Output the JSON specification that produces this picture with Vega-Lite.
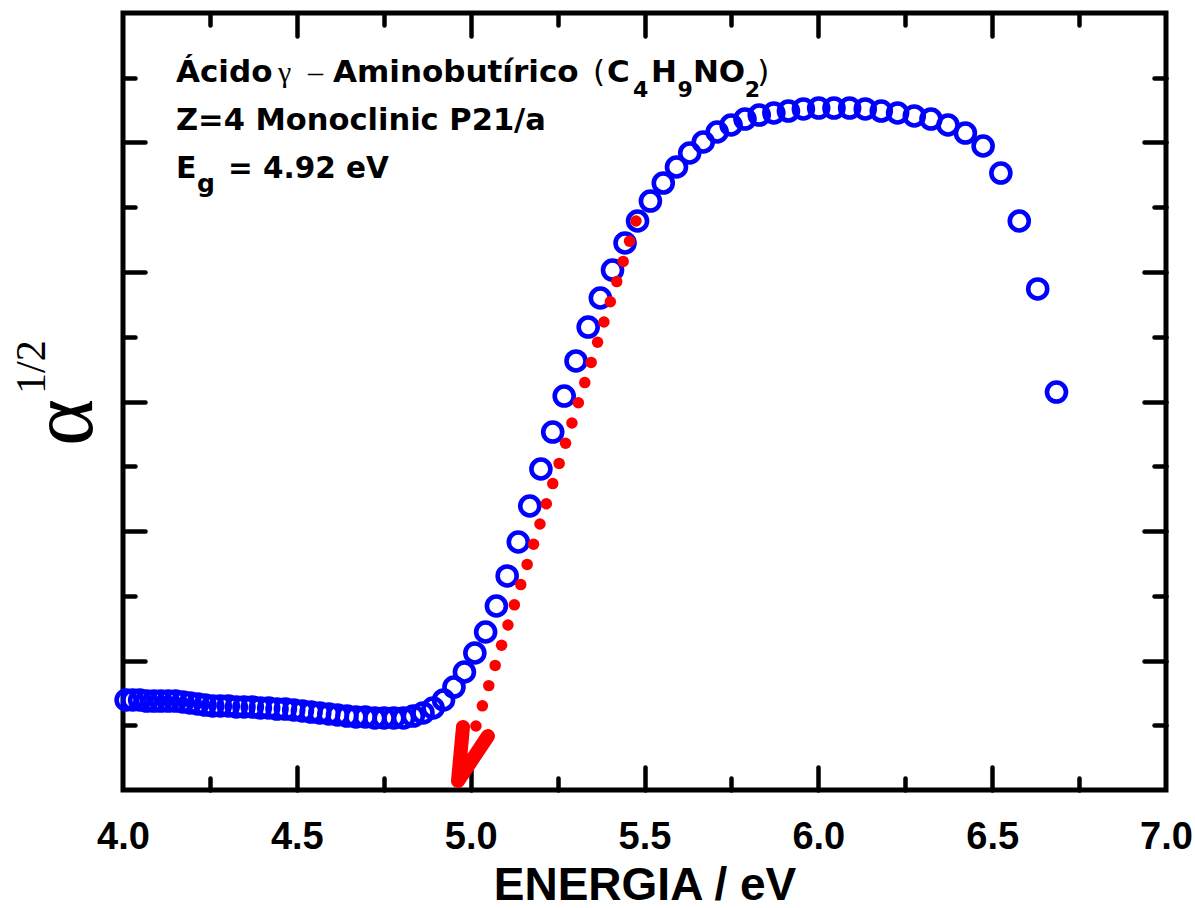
{
  "$schema": "https://vega.github.io/schema/vega-lite/v6.json",
  "width": 1043,
  "height": 777,
  "autosize": {"type": "none"},
  "padding": {"left": 123, "top": 13, "right": 29, "bottom": 118},
  "background": "white",
  "config": {
    "view": {"stroke": "black", "strokeWidth": 5},
    "axis": {"grid": false, "domain": false, "tickColor": "black", "tickWidth": 4.5, "tickCap": "round"}
  },
  "datasets": {
    "absorption": [
      {"E": 4.009, "a": 0.695}, {"E": 4.028, "a": 0.695}, {"E": 4.048, "a": 0.695}, {"E": 4.068, "a": 0.687},
      {"E": 4.089, "a": 0.687}, {"E": 4.109, "a": 0.687}, {"E": 4.130, "a": 0.687}, {"E": 4.151, "a": 0.687},
      {"E": 4.172, "a": 0.680}, {"E": 4.193, "a": 0.672}, {"E": 4.215, "a": 0.664}, {"E": 4.236, "a": 0.656},
      {"E": 4.258, "a": 0.649}, {"E": 4.280, "a": 0.649}, {"E": 4.303, "a": 0.649}, {"E": 4.326, "a": 0.641},
      {"E": 4.348, "a": 0.641}, {"E": 4.372, "a": 0.641}, {"E": 4.395, "a": 0.633}, {"E": 4.419, "a": 0.633},
      {"E": 4.443, "a": 0.625}, {"E": 4.467, "a": 0.625}, {"E": 4.491, "a": 0.618}, {"E": 4.516, "a": 0.610},
      {"E": 4.541, "a": 0.602}, {"E": 4.566, "a": 0.595}, {"E": 4.592, "a": 0.587}, {"E": 4.617, "a": 0.579},
      {"E": 4.644, "a": 0.571}, {"E": 4.670, "a": 0.564}, {"E": 4.697, "a": 0.564}, {"E": 4.724, "a": 0.556},
      {"E": 4.751, "a": 0.556}, {"E": 4.779, "a": 0.556}, {"E": 4.807, "a": 0.556}, {"E": 4.835, "a": 0.571},
      {"E": 4.863, "a": 0.595}, {"E": 4.892, "a": 0.633}, {"E": 4.922, "a": 0.695}, {"E": 4.952, "a": 0.795},
      {"E": 4.982, "a": 0.911}, {"E": 5.012, "a": 1.058}, {"E": 5.043, "a": 1.220}, {"E": 5.074, "a": 1.421},
      {"E": 5.105, "a": 1.653}, {"E": 5.137, "a": 1.915}, {"E": 5.170, "a": 2.193}, {"E": 5.202, "a": 2.479},
      {"E": 5.236, "a": 2.764}, {"E": 5.269, "a": 3.042}, {"E": 5.303, "a": 3.313}, {"E": 5.338, "a": 3.575},
      {"E": 5.373, "a": 3.799}, {"E": 5.408, "a": 4.015}, {"E": 5.444, "a": 4.224}, {"E": 5.480, "a": 4.394},
      {"E": 5.517, "a": 4.548}, {"E": 5.554, "a": 4.687}, {"E": 5.592, "a": 4.811}, {"E": 5.630, "a": 4.919},
      {"E": 5.669, "a": 5.004}, {"E": 5.709, "a": 5.081}, {"E": 5.749, "a": 5.135}, {"E": 5.789, "a": 5.181},
      {"E": 5.830, "a": 5.212}, {"E": 5.872, "a": 5.228}, {"E": 5.914, "a": 5.243}, {"E": 5.957, "a": 5.259},
      {"E": 6.001, "a": 5.266}, {"E": 6.045, "a": 5.266}, {"E": 6.090, "a": 5.266}, {"E": 6.135, "a": 5.259},
      {"E": 6.181, "a": 5.243}, {"E": 6.228, "a": 5.228}, {"E": 6.276, "a": 5.205}, {"E": 6.324, "a": 5.181},
      {"E": 6.373, "a": 5.135}, {"E": 6.423, "a": 5.073}, {"E": 6.474, "a": 4.973}, {"E": 6.525, "a": 4.764},
      {"E": 6.578, "a": 4.394}, {"E": 6.631, "a": 3.869}, {"E": 6.685, "a": 3.073}
    ],
    "fit": [
      {"E": 5.0152, "a": 0.494}, {"E": 5.0337, "a": 0.650}, {"E": 5.0521, "a": 0.806}, {"E": 5.0705, "a": 0.962},
      {"E": 5.0889, "a": 1.118}, {"E": 5.1073, "a": 1.274}, {"E": 5.1257, "a": 1.430}, {"E": 5.1441, "a": 1.586},
      {"E": 5.1625, "a": 1.742}, {"E": 5.1809, "a": 1.898}, {"E": 5.1993, "a": 2.054}, {"E": 5.2177, "a": 2.210},
      {"E": 5.2361, "a": 2.366}, {"E": 5.2545, "a": 2.522}, {"E": 5.2729, "a": 2.678}, {"E": 5.2913, "a": 2.834},
      {"E": 5.3098, "a": 2.990}, {"E": 5.3282, "a": 3.146}, {"E": 5.3466, "a": 3.302}, {"E": 5.3650, "a": 3.458},
      {"E": 5.3834, "a": 3.614}, {"E": 5.4018, "a": 3.770}, {"E": 5.4202, "a": 3.926}, {"E": 5.4386, "a": 4.082},
      {"E": 5.4570, "a": 4.238}, {"E": 5.4754, "a": 4.394}
    ],
    "arrowhead": [
      {"E": 4.9779, "a": 0.4865, "o": 1},
      {"E": 4.9635, "a": 0.0695, "o": 2},
      {"E": 5.0497, "a": 0.417, "o": 3}
    ]
  },
  "resolve": {"axis": {"x": "independent", "y": "independent"}},
  "layer": [
    {
      "data": {"name": "absorption"},
      "mark": {"type": "point", "shape": "circle", "filled": false, "color": "#0000ff", "size": 361, "strokeWidth": 4.6, "opacity": 1},
      "encoding": {
        "x": {
          "field": "E", "type": "quantitative", "scale": {"domain": [4, 7], "nice": false, "zero": false},
          "axis": {
            "orient": "bottom", "values": [4, 4.5, 5, 5.5, 6, 6.5, 7], "format": ".1f", "ticks": false,
            "labelFont": "Liberation Sans", "labelFontWeight": "bold", "labelFontSize": 38, "labelColor": "black",
            "labelPadding": 58, "labelBaseline": "alphabetic", "labelFlush": false, "labelOverlap": false, "labelBound": false,
            "title": "ENERGIA / eV", "titleFont": "Liberation Sans", "titleFontWeight": "bold", "titleFontSize": 46,
            "titleColor": "black", "titleBaseline": "alphabetic", "titleAnchor": "middle", "titleY": 109
          }
        },
        "y": {
          "field": "a", "type": "quantitative", "scale": {"domain": [0, 6], "nice": false, "zero": false},
          "axis": {"orient": "left", "values": [1, 2, 3, 4, 5], "labels": false, "tickSize": -22, "title": null}
        }
      }
    },
    {
      "data": {"name": "fit"},
      "mark": {"type": "circle", "color": "#ff0000", "size": 132, "opacity": 1},
      "encoding": {
        "x": {
          "field": "E", "type": "quantitative", "scale": {"domain": [4, 7], "nice": false, "zero": false},
          "axis": {"orient": "bottom", "values": [4.5, 5, 5.5, 6, 6.5], "labels": false, "tickSize": -23, "title": null}
        },
        "y": {
          "field": "a", "type": "quantitative", "scale": {"domain": [0, 6], "nice": false, "zero": false},
          "axis": {"orient": "left", "values": [0.5, 1.5, 2.5, 3.5, 4.5, 5.5], "labels": false, "tickSize": -12, "title": null}
        }
      }
    },
    {
      "data": {"name": "arrowhead"},
      "mark": {"type": "line", "color": "#ff0000", "strokeWidth": 14, "strokeCap": "round", "strokeJoin": "round"},
      "encoding": {
        "x": {
          "field": "E", "type": "quantitative", "scale": {"domain": [4, 7], "nice": false, "zero": false},
          "axis": {"orient": "bottom", "values": [4.25, 4.75, 5.25, 5.75, 6.25, 6.75], "labels": false, "tickSize": -12, "title": null}
        },
        "y": {
          "field": "a", "type": "quantitative", "scale": {"domain": [0, 6], "nice": false, "zero": false},
          "axis": {"orient": "right", "values": [1, 2, 3, 4, 5], "labels": false, "tickSize": -22, "title": null}
        },
        "order": {"field": "o", "type": "quantitative"}
      }
    },
    {
      "data": {"values": [{}]},
      "mark": {"type": "text", "text": "Z=4 Monoclinic P21/a", "font": "DejaVu Sans", "fontWeight": "bold", "fontSize": 30.5, "align": "left", "baseline": "alphabetic", "color": "black"},
      "encoding": {
        "x": {
          "datum": 4.1524, "type": "quantitative", "scale": {"domain": [4, 7], "nice": false, "zero": false},
          "axis": {"orient": "top", "values": [4.5, 5, 5.5, 6, 6.5], "labels": false, "tickSize": -23, "title": null}
        },
        "y": {
          "datum": 5.100, "type": "quantitative", "scale": {"domain": [0, 6], "nice": false, "zero": false},
          "axis": {"orient": "right", "values": [0.5, 1.5, 2.5, 3.5, 4.5, 5.5], "labels": false, "tickSize": -12, "title": null}
        }
      }
    },
    {
      "data": {"values": [{}]},
      "mark": {"type": "text", "text": "E", "font": "DejaVu Sans", "fontWeight": "bold", "fontSize": 30, "align": "left", "baseline": "alphabetic", "color": "black"},
      "encoding": {
        "x": {
          "datum": 4.1524, "type": "quantitative", "scale": {"domain": [4, 7], "nice": false, "zero": false},
          "axis": {"orient": "top", "values": [4.25, 4.75, 5.25, 5.75, 6.25, 6.75], "labels": false, "tickSize": -12, "title": null}
        },
        "y": {"datum": 4.726, "type": "quantitative", "scale": {"domain": [0, 6], "nice": false, "zero": false}, "axis": null}
      }
    },
    {
      "data": {"values": [{}]},
      "mark": {"type": "text", "text": "g", "font": "DejaVu Sans", "fontWeight": "bold", "fontSize": 25, "align": "left", "baseline": "alphabetic", "color": "black"},
      "encoding": {
        "x": {"datum": 4.2127, "type": "quantitative", "scale": {"domain": [4, 7], "nice": false, "zero": false}, "axis": null},
        "y": {"datum": 4.618, "type": "quantitative", "scale": {"domain": [0, 6], "nice": false, "zero": false}, "axis": null}
      }
    },
    {
      "data": {"values": [{}]},
      "mark": {"type": "text", "text": "= 4.92 eV", "font": "DejaVu Sans", "fontWeight": "bold", "fontSize": 29.5, "align": "left", "baseline": "alphabetic", "color": "black"},
      "encoding": {
        "x": {"datum": 4.302, "type": "quantitative", "scale": {"domain": [4, 7], "nice": false, "zero": false}, "axis": null},
        "y": {"datum": 4.726, "type": "quantitative", "scale": {"domain": [0, 6], "nice": false, "zero": false}, "axis": null}
      }
    },
    {
      "data": {"values": [{}]},
      "mark": {"type": "text", "text": "Ácido", "font": "DejaVu Sans", "fontWeight": "bold", "fontSize": 31, "align": "left", "baseline": "alphabetic", "color": "black"},
      "encoding": {
        "x": {"datum": 4.1524, "type": "quantitative", "scale": {"domain": [4, 7], "nice": false, "zero": false}, "axis": null},
        "y": {"datum": 5.467, "type": "quantitative", "scale": {"domain": [0, 6], "nice": false, "zero": false}, "axis": null}
      }
    },
    {
      "data": {"values": [{}]},
      "mark": {"type": "text", "text": "γ", "font": "Liberation Serif", "fontWeight": "normal", "fontSize": 30, "align": "left", "baseline": "alphabetic", "color": "black"},
      "encoding": {
        "x": {"datum": 4.4458, "type": "quantitative", "scale": {"domain": [4, 7], "nice": false, "zero": false}, "axis": null},
        "y": {"datum": 5.467, "type": "quantitative", "scale": {"domain": [0, 6], "nice": false, "zero": false}, "axis": null}
      }
    },
    {
      "data": {"values": [{}]},
      "mark": {"type": "text", "text": "–", "font": "Liberation Serif", "fontWeight": "normal", "fontSize": 30, "align": "left", "baseline": "alphabetic", "color": "black"},
      "encoding": {
        "x": {"datum": 4.5319, "type": "quantitative", "scale": {"domain": [4, 7], "nice": false, "zero": false}, "axis": null},
        "y": {"datum": 5.467, "type": "quantitative", "scale": {"domain": [0, 6], "nice": false, "zero": false}, "axis": null}
      }
    },
    {
      "data": {"values": [{}]},
      "mark": {"type": "text", "text": "Aminobutírico", "font": "DejaVu Sans", "fontWeight": "bold", "fontSize": 31, "align": "left", "baseline": "alphabetic", "color": "black"},
      "encoding": {
        "x": {"datum": 4.6040, "type": "quantitative", "scale": {"domain": [4, 7], "nice": false, "zero": false}, "axis": null},
        "y": {"datum": 5.467, "type": "quantitative", "scale": {"domain": [0, 6], "nice": false, "zero": false}, "axis": null}
      }
    },
    {
      "data": {"values": [{}]},
      "mark": {"type": "text", "text": "(", "font": "DejaVu Sans", "fontWeight": "normal", "fontSize": 31, "align": "left", "baseline": "alphabetic", "color": "black"},
      "encoding": {
        "x": {"datum": 5.3517, "type": "quantitative", "scale": {"domain": [4, 7], "nice": false, "zero": false}, "axis": null},
        "y": {"datum": 5.467, "type": "quantitative", "scale": {"domain": [0, 6], "nice": false, "zero": false}, "axis": null}
      }
    },
    {
      "data": {"values": [{}]},
      "mark": {"type": "text", "text": "C", "font": "DejaVu Sans", "fontWeight": "bold", "fontSize": 31, "align": "left", "baseline": "alphabetic", "color": "black"},
      "encoding": {
        "x": {"datum": 5.3920, "type": "quantitative", "scale": {"domain": [4, 7], "nice": false, "zero": false}, "axis": null},
        "y": {"datum": 5.467, "type": "quantitative", "scale": {"domain": [0, 6], "nice": false, "zero": false}, "axis": null}
      }
    },
    {
      "data": {"values": [{}]},
      "mark": {"type": "text", "text": "4", "font": "DejaVu Sans", "fontWeight": "bold", "fontSize": 22, "align": "left", "baseline": "alphabetic", "color": "black"},
      "encoding": {
        "x": {"datum": 5.4668, "type": "quantitative", "scale": {"domain": [4, 7], "nice": false, "zero": false}, "axis": null},
        "y": {"datum": 5.3514, "type": "quantitative", "scale": {"domain": [0, 6], "nice": false, "zero": false}, "axis": null}
      }
    },
    {
      "data": {"values": [{}]},
      "mark": {"type": "text", "text": "H", "font": "DejaVu Sans", "fontWeight": "bold", "fontSize": 31, "align": "left", "baseline": "alphabetic", "color": "black"},
      "encoding": {
        "x": {"datum": 5.5186, "type": "quantitative", "scale": {"domain": [4, 7], "nice": false, "zero": false}, "axis": null},
        "y": {"datum": 5.467, "type": "quantitative", "scale": {"domain": [0, 6], "nice": false, "zero": false}, "axis": null}
      }
    },
    {
      "data": {"values": [{}]},
      "mark": {"type": "text", "text": "9", "font": "DejaVu Sans", "fontWeight": "bold", "fontSize": 22, "align": "left", "baseline": "alphabetic", "color": "black"},
      "encoding": {
        "x": {"datum": 5.5948, "type": "quantitative", "scale": {"domain": [4, 7], "nice": false, "zero": false}, "axis": null},
        "y": {"datum": 5.3514, "type": "quantitative", "scale": {"domain": [0, 6], "nice": false, "zero": false}, "axis": null}
      }
    },
    {
      "data": {"values": [{}]},
      "mark": {"type": "text", "text": "NO", "font": "DejaVu Sans", "fontWeight": "bold", "fontSize": 31, "align": "left", "baseline": "alphabetic", "color": "black"},
      "encoding": {
        "x": {"datum": 5.6393, "type": "quantitative", "scale": {"domain": [4, 7], "nice": false, "zero": false}, "axis": null},
        "y": {"datum": 5.467, "type": "quantitative", "scale": {"domain": [0, 6], "nice": false, "zero": false}, "axis": null}
      }
    },
    {
      "data": {"values": [{}]},
      "mark": {"type": "text", "text": "2", "font": "DejaVu Sans", "fontWeight": "bold", "fontSize": 22, "align": "left", "baseline": "alphabetic", "color": "black"},
      "encoding": {
        "x": {"datum": 5.7882, "type": "quantitative", "scale": {"domain": [4, 7], "nice": false, "zero": false}, "axis": null},
        "y": {"datum": 5.3514, "type": "quantitative", "scale": {"domain": [0, 6], "nice": false, "zero": false}, "axis": null}
      }
    },
    {
      "data": {"values": [{}]},
      "mark": {"type": "text", "text": ")", "font": "DejaVu Sans", "fontWeight": "normal", "fontSize": 31, "align": "left", "baseline": "alphabetic", "color": "black"},
      "encoding": {
        "x": {"datum": 5.8245, "type": "quantitative", "scale": {"domain": [4, 7], "nice": false, "zero": false}, "axis": null},
        "y": {"datum": 5.467, "type": "quantitative", "scale": {"domain": [0, 6], "nice": false, "zero": false}, "axis": null}
      }
    },
    {
      "data": {"values": [{}]},
      "mark": {"type": "text", "text": "α", "font": "Liberation Serif", "fontWeight": "normal", "fontSize": 90, "angle": 270, "align": "center", "baseline": "alphabetic", "color": "black"},
      "encoding": {
        "x": {"datum": 3.9108, "type": "quantitative", "scale": {"domain": [4, 7], "nice": false, "zero": false}, "axis": null},
        "y": {"datum": 2.838, "type": "quantitative", "scale": {"domain": [0, 6], "nice": false, "zero": false}, "axis": null}
      }
    },
    {
      "data": {"values": [{}]},
      "mark": {"type": "text", "text": "1/2", "font": "Liberation Serif", "fontWeight": "normal", "fontSize": 42, "angle": 270, "align": "center", "baseline": "alphabetic", "color": "black"},
      "encoding": {
        "x": {"datum": 3.7757, "type": "quantitative", "scale": {"domain": [4, 7], "nice": false, "zero": false}, "axis": null},
        "y": {"datum": 3.266, "type": "quantitative", "scale": {"domain": [0, 6], "nice": false, "zero": false}, "axis": null}
      }
    }
  ]
}
